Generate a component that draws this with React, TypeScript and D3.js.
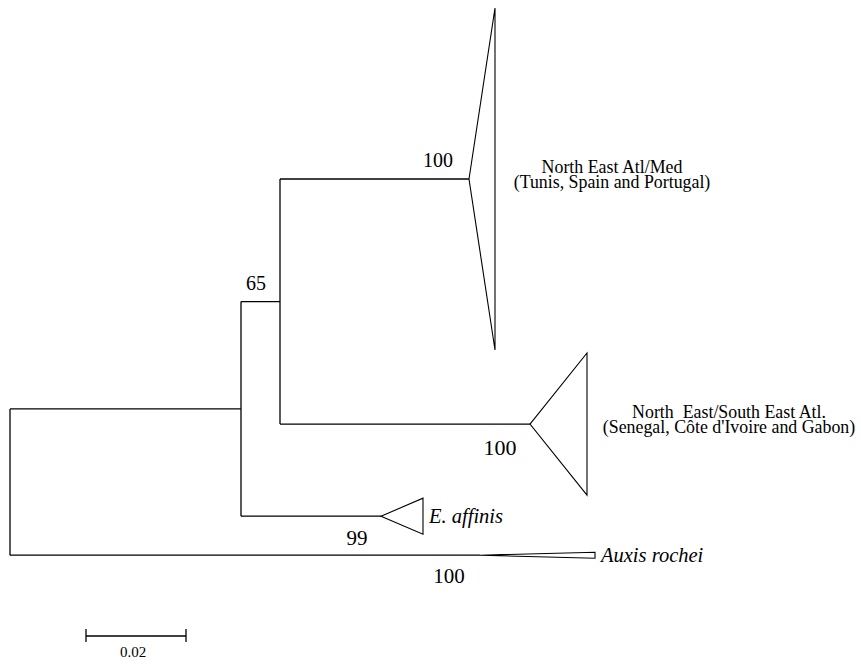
import React from 'react';
import * as d3 from 'd3';

// collapsed clades, top to bottom (rows = sequence slots, lengths in substitutions/site)
const cladeNames = ['NEAtlMed', 'NESEAtl', 'Eaffinis', 'Auxis'];
const cladeRowTop = [0, 57.5, 81.7, 90.7];
const cladeRowBottom = [57, 81.2, 87.7, 91.7];
const cladeDepth = [0.0052, 0.0114, 0.0084, 0.023];
const cladeLabels = [
  ['North East Atl/Med', '(Tunis, Spain and Portugal)'],
  ['North  East/South East Atl.', "(Senegal, Côte d'Ivoire and Gabon)"],
  ['E. affinis'],
  ['Auxis rochei'],
];

// internal nodes + branch lengths
const tree = {
  name: 'root', length: 0, children: [
    { name: 'B', length: 0.0462, children: [
      { name: 'C', length: 0.0078, support: 65, children: [
        { name: 'NEAtlMed', length: 0.0378, support: 100 },
        { name: 'NESEAtl', length: 0.05, support: 100 },
      ] },
      { name: 'Eaffinis', length: 0.028, support: 99 },
    ] },
    { name: 'Auxis', length: 0.094, support: 100 },
  ],
};

const scaleBarValue = 0.02;

const W = 861;
const H = 664;
const font = "'Liberation Serif', 'LiberationSerif', 'Times New Roman', Times, Tinos, 'Noto Serif', 'DejaVu Serif', FreeSerif, serif";

// where each support number sits relative to its branch
const supportPos: Record<string, { dx: number; dy: number; anchor: string; size: number }> = {
  C: { dx: 15, dy: -12, anchor: 'middle', size: 20 },
  NEAtlMed: { dx: -16, dy: -12, anchor: 'end', size: 20 },
  NESEAtl: { dx: -30, dy: 31, anchor: 'middle', size: 22 },
  Eaffinis: { dx: -24, dy: 29, anchor: 'middle', size: 21 },
  Auxis: { dx: -31, dy: 28, anchor: 'middle', size: 21 },
};

export default function App() {
  const x = d3.scaleLinear().domain([0, 0.02]).range([10, 110]);
  const y = d3.scaleLinear().domain([0, 57]).range([8, 350]);

  const root = d3.hierarchy<any>(tree);
  root.each((d: any) => {
    d.dist = (d.parent ? d.parent.dist : 0) + d.data.length;
  });
  root.eachAfter((d: any) => {
    const i = cladeNames.indexOf(d.data.name);
    if (i >= 0) {
      d.yTop = y(cladeRowTop[i]);
      d.yBot = y(cladeRowBottom[i]);
      d.ypos = (d.yTop + d.yBot) / 2;
      d.ci = i;
    } else {
      const ys = d.children.map((c: any) => c.ypos);
      d.ypos = (d3.min(ys)! + d3.max(ys)!) / 2;
    }
  });

  const nodes = root.descendants() as any[];
  const stroke = '#000';
  const tf = { fontFamily: font };

  return (
    <svg width={W} height={H} style={{ position: 'absolute', left: 0, top: 0, background: '#fff' }}>
      {/* horizontal branches */}
      {nodes.filter(d => d.parent).map(d => (
        <line key={'h' + d.data.name} x1={x(d.parent.dist)} x2={x(d.dist)} y1={d.ypos} y2={d.ypos}
          stroke={stroke} strokeWidth={1.3} />
      ))}
      {/* vertical connectors */}
      {nodes.filter(d => d.children).map(d => {
        const ys = d.children.map((c: any) => c.ypos);
        return (
          <line key={'v' + d.data.name} x1={x(d.dist)} x2={x(d.dist)} y1={d3.min(ys)} y2={d3.max(ys)}
            stroke={stroke} strokeWidth={1.3} />
        );
      })}
      {/* collapsed clade triangles */}
      {nodes.filter(d => d.ci !== undefined).map(d => {
        const xb = x(d.dist + cladeDepth[d.ci]);
        const pts = [[x(d.dist), d.ypos], [xb, d.yTop], [xb, d.yBot]];
        return (
          <polygon key={'t' + d.data.name} points={pts.map(p => p.join(',')).join(' ')}
            fill="#fff" stroke={stroke} strokeWidth={1.1} />
        );
      })}
      {/* support values */}
      {nodes.filter(d => d.data.support !== undefined).map(d => {
        const p = supportPos[d.data.name];
        const nx = d.children ? x(d.parent.dist) : x(d.dist);
        return (
          <text key={'s' + d.data.name} x={nx + p.dx} y={d.ypos + p.dy} textAnchor={p.anchor}
            fontSize={p.size} fill="#000" style={tf}>{d.data.support}</text>
        );
      })}
      {/* clade labels */}
      {nodes.filter(d => d.ci !== undefined).map(d => {
        const lines = cladeLabels[d.ci];
        const xb = x(d.dist + cladeDepth[d.ci]);
        if (lines.length === 1) {
          return (
            <text key={'l' + d.data.name} x={xb + 6} y={d.ypos + 7} fontSize={20.5} fontStyle="italic"
              fill="#000" style={tf}>{lines[0]}</text>
          );
        }
        const cx = xb + (d.ci === 0 ? 117 : 142);
        return (
          <g key={'l' + d.data.name} transform={`translate(${cx},${d.ypos - 6}) scale(0.94,1)`}>
            {lines.map((s, k) => (
              <text key={k} x={0} y={k * 15} textAnchor="middle" fontSize={19} fill="#000"
                style={{ ...tf, whiteSpace: 'pre' }}>{s}</text>
            ))}
          </g>
        );
      })}
      {/* scale bar */}
      <g transform="translate(86,636)">
        <line x1={0} x2={x(scaleBarValue) - x(0)} y1={0} y2={0} stroke={stroke} strokeWidth={1.3} />
        <line x1={0} x2={0} y1={-7} y2={6} stroke={stroke} strokeWidth={1.3} />
        <line x1={x(scaleBarValue) - x(0)} x2={x(scaleBarValue) - x(0)} y1={-7} y2={6} stroke={stroke} strokeWidth={1.3} />
        <text x={(x(scaleBarValue) - x(0)) / 2 - 3} y={21} textAnchor="middle" fontSize={15}
          fill="#000" style={tf}>{d3.format('.2f')(scaleBarValue)}</text>
      </g>
    </svg>
  );
}
